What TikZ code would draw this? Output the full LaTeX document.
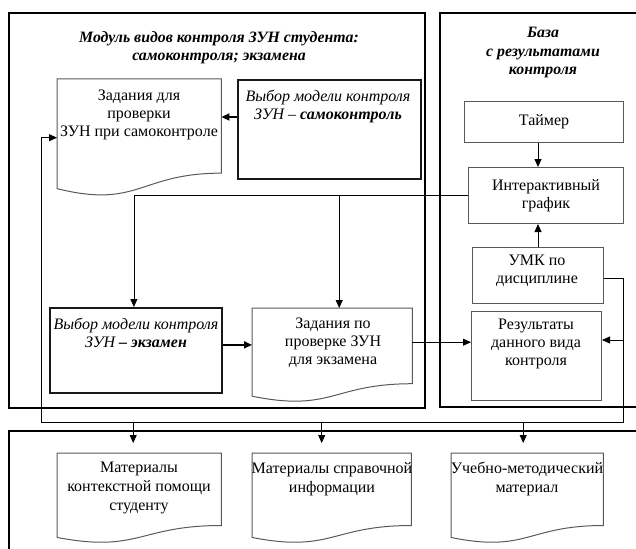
\documentclass[tikz,border=0pt]{standalone}
\usepackage{fontspec}
\setmainfont{Liberation Serif}
\usetikzlibrary{arrows.meta,calc}

\tikzset{
  frame/.style={draw=black, line width=2.4pt},
  pickbox/.style={draw=black!90, line width=1.8pt, anchor=north west, inner sep=0pt},
  plainbox/.style={draw=black!65, line width=1pt, anchor=north west, inner sep=0pt},
  docbox/.style={anchor=north west, inner sep=0pt},
  txt/.style={font=\fontsize{16}{17.8}\selectfont, align=center, inner sep=0pt, anchor=north},
  itxt/.style={txt, font=\fontsize{16}{17.8}\selectfont\itshape},
  ltxt/.style={txt, font=\fontsize{16}{19}\selectfont},
  head/.style={font=\fontsize{15.8}{18.5}\selectfont\bfseries\itshape, align=center, inner sep=0pt, anchor=north},
  link/.style={draw=black, line width=0.8pt},
  arr/.style={link, -{Triangle[length=8pt,width=7pt]}},
  boldarr/.style={arr, line width=1.7pt},
}

% outline of a flowchart "document" symbol drawn on an empty node
\newcommand\docoutline[1]{%
  \draw[black!65, line width=1pt]
    (#1.north west) -- (#1.north east)
    -- ($(#1.north east)!0.802!(#1.south east)$)
    .. controls ($(#1.north)!0.802!(#1.south)$) and ($(#1.north)!1.107!(#1.south)$)
    .. ($(#1.north west)!0.934!(#1.south west)$) -- cycle;}

\begin{document}
\begin{tikzpicture}[x=1pt, y=-1pt]
\useasboundingbox (0,0) rectangle (636,548);
\clip (0,0) rectangle (636,548);

% module frames
\draw[frame] (9,13) rectangle (425,408);
\draw[frame] (645,13) -- (440,13) -- (440,407) -- (645,407);
\draw[frame] (645,431) -- (9,431) -- (9,560);

\node[head] (titleL) at (219,31) {Модуль видов контроля ЗУН студента:\\самоконтроля; экзамена};
\node[head] (titleR) at (543,27) {База\\с результатами\\контроля};

% self-check branch
\node[docbox, minimum width=164pt, minimum height=117pt] (doc1) at (57,79) {};
\docoutline{doc1}
\node[txt] (doc1t) at (139,90) {Задания для\\проверки\\ЗУН при самоконтроле};

\node[pickbox, minimum width=183pt, minimum height=99pt] (samo) at (237,79) {};
\node[itxt] (samot) at (328,90) {Выбор модели контроля\\ЗУН – \textbf{самоконтроль}};

% exam branch
\node[pickbox, minimum width=172pt, minimum height=85pt] (exam) at (49,307) {};
\node[itxt] (examt) at (136,318) {Выбор модели контроля\\ЗУН \textbf{– экзамен}};

\node[docbox, minimum width=160pt, minimum height=94pt] (doc2) at (252,308) {};
\docoutline{doc2}
\node[txt] (doc2t) at (333,318) {Задания по\\проверке ЗУН\\для экзамена};

% results base
\node[plainbox, minimum width=159pt, minimum height=41pt] (timer) at (464,101) {};
\node[txt, anchor=center] (timert) at (timer.center) {Таймер};
\node[plainbox, minimum width=155pt, minimum height=56pt] (inter) at (468,167) {};
\node[txt, anchor=center] (intert) at (inter.center) {Интерактивный\\график};
\node[plainbox, minimum width=131pt, minimum height=56pt] (umk) at (472,247) {};
\node[txt] (umkt) at (537,255) {УМК по\\дисциплине};
\node[plainbox, minimum width=130pt, minimum height=89pt] (res) at (471,311) {};
\node[txt] (rest) at (536,319) {Результаты\\данного вида\\контроля};

% help materials
\node[docbox, minimum width=164pt, minimum height=90pt] (docA) at (57,453) {};
\docoutline{docA}
\node[ltxt] (docAt) at (139,462) {Материалы\\контекстной помощи\\студенту};
\node[docbox, minimum width=159pt, minimum height=90pt] (docB) at (252,453) {};
\docoutline{docB}
\node[ltxt] (docBt) at (332,462) {Материалы справочной\\информации};
\node[docbox, minimum width=152pt, minimum height=90pt] (docC) at (451,453) {};
\docoutline{docC}
\node[ltxt] (docCt) at (527,462) {Учебно-методический\\материал};

% connection points
\coordinate (s1) at ([yshift=-38pt]samo.north west);
\coordinate (e1) at ([yshift=5.5pt]exam.east);
\coordinate (d1) at ([yshift=13pt]doc2.east);
\coordinate (r1) at ([yshift=16pt]res.east);
\coordinate (exIn) at ([xshift=-2pt]exam.north);
\coordinate (d2In) at ([xshift=7pt]doc2.north);
\coordinate (aIn) at ([xshift=-6pt,yshift=10pt]docA.north);
\coordinate (bIn) at ([xshift=-10pt,yshift=10pt]docB.north);
\coordinate (cIn) at ([xshift=-4pt,yshift=10pt]docC.north);
\coordinate (uOut) at ([yshift=-3pt]umk.east);
\coordinate (fbR) at (623,422);
\coordinate (fbL) at (41,422);

% connectors
\draw[boldarr] (s1) -- (s1 -| doc1.east);
\draw[boldarr] (e1) -- (e1 -| doc2.west);
\draw[arr] (d1) -- (d1 -| res.west);

\draw[arr] (inter.west) -| (exIn);
\draw[arr] (inter.west -| d2In) -- (d2In);

\draw[arr] (timer.south -| umk.north) -- (inter.north -| umk.north);
\draw[arr] (umk.north) -- (umk.north |- inter.south);

\draw[arr] (uOut) -| (fbR) -- (fbL) |- (doc1.west);
\draw[arr] (r1 -| fbR) -- (r1);

\draw[arr] (fbL -| aIn) -- (aIn);
\draw[arr] (fbL -| bIn) -- (bIn);
\draw[arr] (fbL -| cIn) -- (cIn);
\end{tikzpicture}
\end{document}
